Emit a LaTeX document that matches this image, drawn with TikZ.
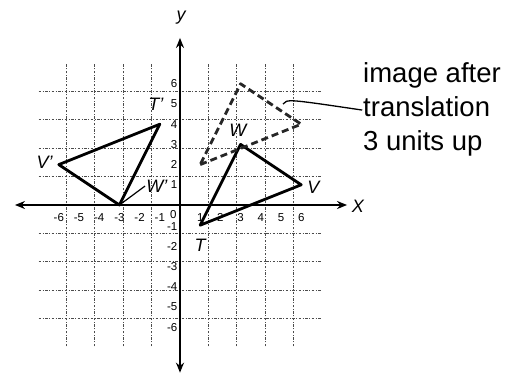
\documentclass[tikz,border=0pt]{standalone}
\usepackage{fontspec}
\setmainfont{Liberation Sans}
\usetikzlibrary{arrows.meta}
\begin{document}
\begin{tikzpicture}[x=20.2pt,y=20.2pt,
  gridline/.style={draw=black!70, line width=1pt, dash pattern=on 2.5pt off 1.5pt on 1pt off 1.5pt},
  axisline/.style={draw=black, line width=2pt, {Stealth[length=10pt,width=8pt]}-{Stealth[length=10pt,width=8pt]}},
  tri/.style={draw=black, line width=2.8pt, line join=round},
  imgtri/.style={draw=black!85, line width=2.8pt, dash pattern=on 7pt off 4pt, line join=round},
  vlab/.style={font=\fontsize{18}{18}\selectfont\itshape, inner sep=1pt},
  tlab/.style={font=\fontsize{11.5}{11.5}\selectfont, inner sep=0.5pt},
  callout/.style={font=\fontsize{27.5}{34}\selectfont, inner sep=0pt, anchor=base west},
  leader/.style={draw=black, line width=1.3pt}
]
\useasboundingbox (-8.911,-8.416) rectangle (16.782,10.149);
% grid
\draw[gridline] (-7,-7) grid (7,7);
% axes
\coordinate (xl) at (-8.17,0);
\coordinate (xr) at (8.27,0);
\coordinate (yb) at (0,-8.3);
\coordinate (yt) at (0,8.27);
\draw[axisline] (xl) -- (xr);
\draw[axisline] (yb) -- (yt);
\node[vlab] (ylab) at (0.05,9.26) {y};
\node[vlab] (xlab) at (8.81,-0.05) {X};
% tick labels
\foreach \i in {-6,...,-1} {
  \node[tlab] (xt\i) at (\i,-0.6) {\i};
  \node[tlab, anchor=east] (yt\i) at (-0.1,\i-0.05) {\i};
}
\foreach \i in {1,2,...,6} {
  \node[tlab] (xt\i) at (\i,-0.6) {\i};
  \node[tlab, anchor=east] (yt\i) at (-0.1,\i) {\i};
}
\node[tlab] (xt0) at (-0.33,-0.47) {0};
% vertices
\coordinate (Tp) at (-1,4);
\coordinate (Vp) at (-6,2);
\coordinate (Wp) at (-3,0);
\coordinate (T) at (1,-1);
\coordinate (V) at (6,1);
\coordinate (W) at (3,3);
\coordinate (Ti) at (1,2);
\coordinate (Vi) at (6,4);
\coordinate (Wi) at (3,6);
\draw[tri] (Tp) -- (Vp) -- (Wp) -- cycle;
\draw[tri] (T) -- (V) -- (W) -- cycle;
\draw[imgtri] (Ti) -- (Vi) -- (Wi) -- cycle;
% vertex labels
\node[vlab] (Tplab) at (-1.2,5.0) {T'};
\node[vlab] (Vplab) at (-6.7,2.13) {V'};
\node[vlab] (Wplab) at (-1.15,0.94) {W'};
\node[vlab] (Tlab) at (1.0,-2.0) {T};
\node[vlab] (Vlab) at (6.6,0.89) {V};
\node[vlab] (Wlab) at (2.87,3.71) {W};
\draw[leader, line width=1.2pt] (Wp) -- (Wplab.west);
% callout
\node[callout] (c1) at (9.06,6.089) {image after};
\node[callout] (c2) at (9.06,4.406) {translation};
\node[callout] (c3) at (9.06,2.723) {3 units up};
\coordinate (ls) at (5.10,5.0);
\coordinate (le) at (9.02,4.70);
\draw[leader] (ls) .. controls (5.3,5.25) .. (le);
\end{tikzpicture}
\end{document}
